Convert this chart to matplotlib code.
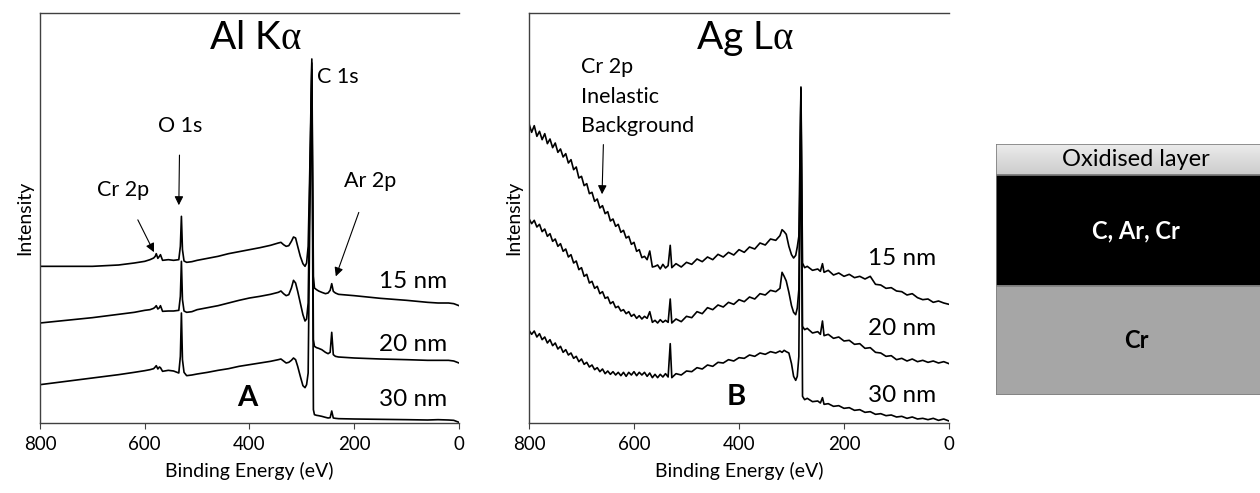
import numpy as np
import matplotlib.pyplot as plt
from matplotlib.patches import Rectangle

plt.rcParams['font.family'] = ['Lato', 'DejaVu Sans']
plt.rcParams['mathtext.fontset'] = 'custom'
plt.rcParams['mathtext.rm'] = 'Liberation Serif'
plt.rcParams['mathtext.it'] = 'Liberation Serif:italic'

# ---- panel A (Al K alpha) ----
a_e = [800, 750, 700, 650, 620, 600, 590, 583, 580, 578, 575, 572, 570, 566, 555, 545, 535, 532, 530, 528,
       525, 520, 510, 500, 480, 460, 440, 420, 400, 380, 360, 345, 340, 335, 330, 325, 320, 316, 312, 308,
       303, 298, 294, 291, 288, 285, 281, 278, 276, 272, 268, 262, 255, 250, 246, 243, 240, 236, 230, 200,
       150, 100, 60, 40, 20, 10, 0]
a15_i = [470, 470, 470, 474, 480, 485, 490, 495, 500, 508, 494, 500, 505, 488, 490, 488, 490, 530, 620, 520,
         486, 482, 484, 488, 494, 500, 508, 514, 520, 526, 533, 540, 542, 535, 530, 532, 545, 558, 555, 530,
         500, 478, 470, 480, 530, 750, 1092, 440, 405, 400, 396, 392, 388, 390, 398, 418, 395, 390, 386, 382,
         374, 368, 362, 360, 360, 358, 352]
a20_i = [300, 308, 316, 326, 332, 338, 340, 344, 348, 352, 342, 346, 352, 335, 336, 336, 338, 380, 485, 370,
         336, 332, 334, 340, 346, 352, 360, 368, 375, 380, 386, 392, 396, 388, 382, 385, 405, 428, 420, 395,
         360, 325, 306, 312, 360, 700, 1080, 250, 230, 226, 224, 220, 212, 208, 212, 272, 205, 200, 198, 195,
         192, 190, 188, 188, 188, 186, 180]
a30_i = [115, 125, 135, 145, 152, 157, 160, 163, 168, 172, 162, 168, 166, 155, 158, 156, 150, 200, 330, 190,
         152, 142, 144, 147, 152, 158, 163, 170, 175, 180, 185, 190, 192, 186, 180, 182, 188, 195, 190, 170,
         140, 112, 106, 115, 150, 600, 1060, 40, 25, 23, 22, 20, 17, 15, 16, 36, 15, 14, 13, 12,
         11, 10, 9, 10, 9, 8, 2]

# ---- panel B (Ag L alpha) ----
b_e = [800, 795, 790, 785, 780, 775, 770, 765, 760, 755, 750, 745, 740, 735, 730, 725, 720, 715, 710, 705,
       700, 695, 690, 685, 680, 675, 670, 665, 660, 655, 650, 645, 640, 635, 630, 625, 620, 615, 610, 605,
       600, 595, 590, 585, 580, 575, 570, 565, 560,
       555, 550, 545, 540, 535, 531, 528, 520, 510, 500, 490, 480, 470, 460, 450, 440, 430, 420, 410, 400,
       390, 380, 370, 360, 350, 340, 330,
       322, 318, 314, 310, 305, 300, 296, 292, 289, 286, 282, 279, 275, 270, 260, 250, 245, 241, 238,
       230, 220, 210, 200, 190, 180, 170, 160, 150, 140, 130, 120, 110, 100, 90, 80, 70, 60, 50, 40, 30, 20, 10, 0]
b15_i = [898, 872, 892, 860, 875, 850, 868, 838, 852, 826, 840, 812, 822, 798, 808, 780, 790, 760, 768, 735,
         740, 712, 718, 688, 692, 665, 672, 645, 652, 628, 634, 606, 612, 590, 596, 572, 578, 555, 560, 536,
         542, 515, 520, 496, 500, 490, 516, 468, 470,
         474, 462, 476, 465, 472, 533, 466, 478, 468, 482, 476, 492, 484, 498, 490, 506, 498, 512, 504, 520,
         512, 528, 522, 540, 534, 552, 548,
         562, 580, 574, 566, 530, 505, 495, 503, 528, 560, 1008, 480, 466, 470, 458, 462, 455, 478, 452,
         458, 444, 450, 440, 446, 436, 440, 432, 440, 416, 414, 404, 406, 396, 394, 384, 388, 376, 370, 372, 362, 366, 360, 356]
b20_i = [613, 598, 608, 588, 596, 574, 582, 560, 568, 545, 552, 530, 538, 515, 522, 498, 505, 480, 486, 460,
         466, 440, 446, 420, 425, 404, 410, 388, 394, 374, 378, 358, 364, 346, 350, 336, 340, 328, 334, 320,
         326, 314, 322, 312, 320, 314, 334, 302, 308,
         300, 310, 302, 308, 302, 372, 300, 312, 304, 320, 316, 334, 328, 346, 340, 354, 348, 362, 356, 370,
         364, 378, 372, 388, 384, 398, 394,
         404, 452, 440, 426, 392, 352, 332, 325, 345, 400, 1005, 290, 280, 284, 270, 274, 266, 306, 262,
         266, 254, 258, 246, 248, 236, 238, 224, 226, 212, 210, 200, 202, 190, 194, 186, 192, 184, 188, 182, 186, 180, 184, 178]
b30_i = [278, 266, 276, 258, 268, 250, 258, 240, 250, 232, 240, 222, 230, 212, 220, 204, 210, 194, 200, 184,
         192, 176, 182, 168, 174, 160, 166, 154, 162, 148, 156, 146, 154, 144, 152, 142, 152, 140, 152, 144,
         154, 142, 152, 144, 152, 140, 150, 136, 146,
         136, 146, 138, 148, 138, 238, 136, 148, 144, 156, 154, 166, 162, 174, 170, 182, 180, 190, 186, 196,
         194, 204, 200, 210, 206, 214, 210,
         216, 212, 218, 214, 210, 178, 140, 128, 140, 200, 1000, 80, 70, 74, 64, 66, 60, 76, 56,
         58, 50, 52, 44, 46, 38, 40, 32, 34, 26, 28, 22, 24, 18, 20, 14, 18, 12, 14, 10, 14, 8, 12, 6]

thick = ['15 nm', '20 nm', '30 nm']
a_lab_y = [423, 235, 70]
b_lab_y = [493, 283, 83]

layers = ['Oxidised layer', 'C, Ar, Cr', 'Cr']
layer_h = [31, 111, 109]

fig = plt.figure(figsize=(12.6, 4.93), dpi=100)
axA = fig.add_axes([40/1260, 70/493, 419/1260, 410/493])
axB = fig.add_axes([529/1260, 70/493, 420/1260, 410/493])

for ax in (axA, axB):
    ax.set_xlim(800, 0)
    ax.set_ylim(0, 1230)
    ax.set_xticks([800, 600, 400, 200, 0])
    ax.set_yticks([])
    ax.spines['right'].set_visible(False)
    for s in ('left', 'top', 'bottom'):
        ax.spines[s].set_color('#404040')
        ax.spines[s].set_linewidth(1.0)
    ax.tick_params(axis='x', direction='out', length=4, labelsize=13.5, color='#404040', pad=5)
    ax.set_xlabel('Binding Energy (eV)', fontsize=14, labelpad=7)
    ax.set_ylabel('Intensity', fontsize=14, labelpad=5)

for i in (a15_i, a20_i, a30_i):
    axA.plot(a_e, i, color='black', lw=1.2)
for i in (b15_i, b20_i, b30_i):
    axB.plot(b_e, i, color='black', lw=1.2)

for t, y in zip(thick, a_lab_y):
    axA.text(23, y, t, ha='right', va='center', fontsize=17.5)
for t, y in zip(thick, b_lab_y):
    axB.text(24, y, t, ha='right', va='center', fontsize=17.5)

axA.text(388, 1155, r'Al K$\mathrm{\alpha}$', ha='center', va='center', fontsize=28)
axB.text(389, 1153, r'Ag L$\mathrm{\alpha}$', ha='center', va='center', fontsize=28)
axA.text(405, 75, 'A', ha='center', va='center', fontsize=21, fontweight='bold')
axB.text(405, 78, 'B', ha='center', va='center', fontsize=21, fontweight='bold')

arw = dict(arrowstyle='-|>', color='black', lw=0.8, mutation_scale=13)
axA.text(271, 1039, 'C 1s', ha='left', va='center', fontsize=15.5)
axA.annotate('O 1s', xy=(535, 645), xytext=(533, 892), ha='center', va='center',
             fontsize=15.5, arrowprops=dict(arw, shrinkA=12))
axA.annotate('Cr 2p', xy=(580, 505), xytext=(642, 700), ha='center', va='center',
             fontsize=15.5, arrowprops=dict(arw, shrinkA=14))
axA.annotate('Ar 2p', xy=(237, 432), xytext=(170, 725), ha='center', va='center',
             fontsize=15.5, arrowprops=dict(arw, shrinkA=14))
axB.annotate('Cr 2p\nInelastic\nBackground', xy=(661, 678), xytext=(701, 979), ha='left', va='center',
             fontsize=15.5, linespacing=1.6, arrowprops=dict(arw, shrinkA=4, relpos=(0.2, 0)))

# ---- layer sketch ----
axL = fig.add_axes([996/1260, 98/493, 264/1260, 251/493])
axL.axis('off')
cols = ['#d9d9d9', 'black', '#a6a6a6']
tcols = ['black', 'white', 'black']
weights = ['normal', 'bold', 'bold']
top = 251
for name, h, c, tc, w in zip(layers, layer_h, cols, tcols, weights):
    bot = top - h
    if name == 'Oxidised layer':
        grad = np.linspace(0.92, 0.80, 30).reshape(-1, 1)
        axL.imshow(grad, cmap='gray', vmin=0, vmax=1, extent=(0, 284, bot, top),
                   aspect='auto', zorder=1)
        axL.add_patch(Rectangle((0, bot), 284, h, facecolor='none', edgecolor='#7f7f7f', lw=1.2, zorder=2))
    else:
        axL.add_patch(Rectangle((0, bot), 284, h, facecolor=c, edgecolor='#7f7f7f', lw=1.2, zorder=2))
    axL.text(140, bot + h / 2, name, ha='center', va='center', color=tc, fontsize=17,
             fontweight=w, zorder=3)
    top = bot
axL.set_xlim(0, 264)
axL.set_ylim(0, 251)

fig.savefig('out.png', dpi=100)
